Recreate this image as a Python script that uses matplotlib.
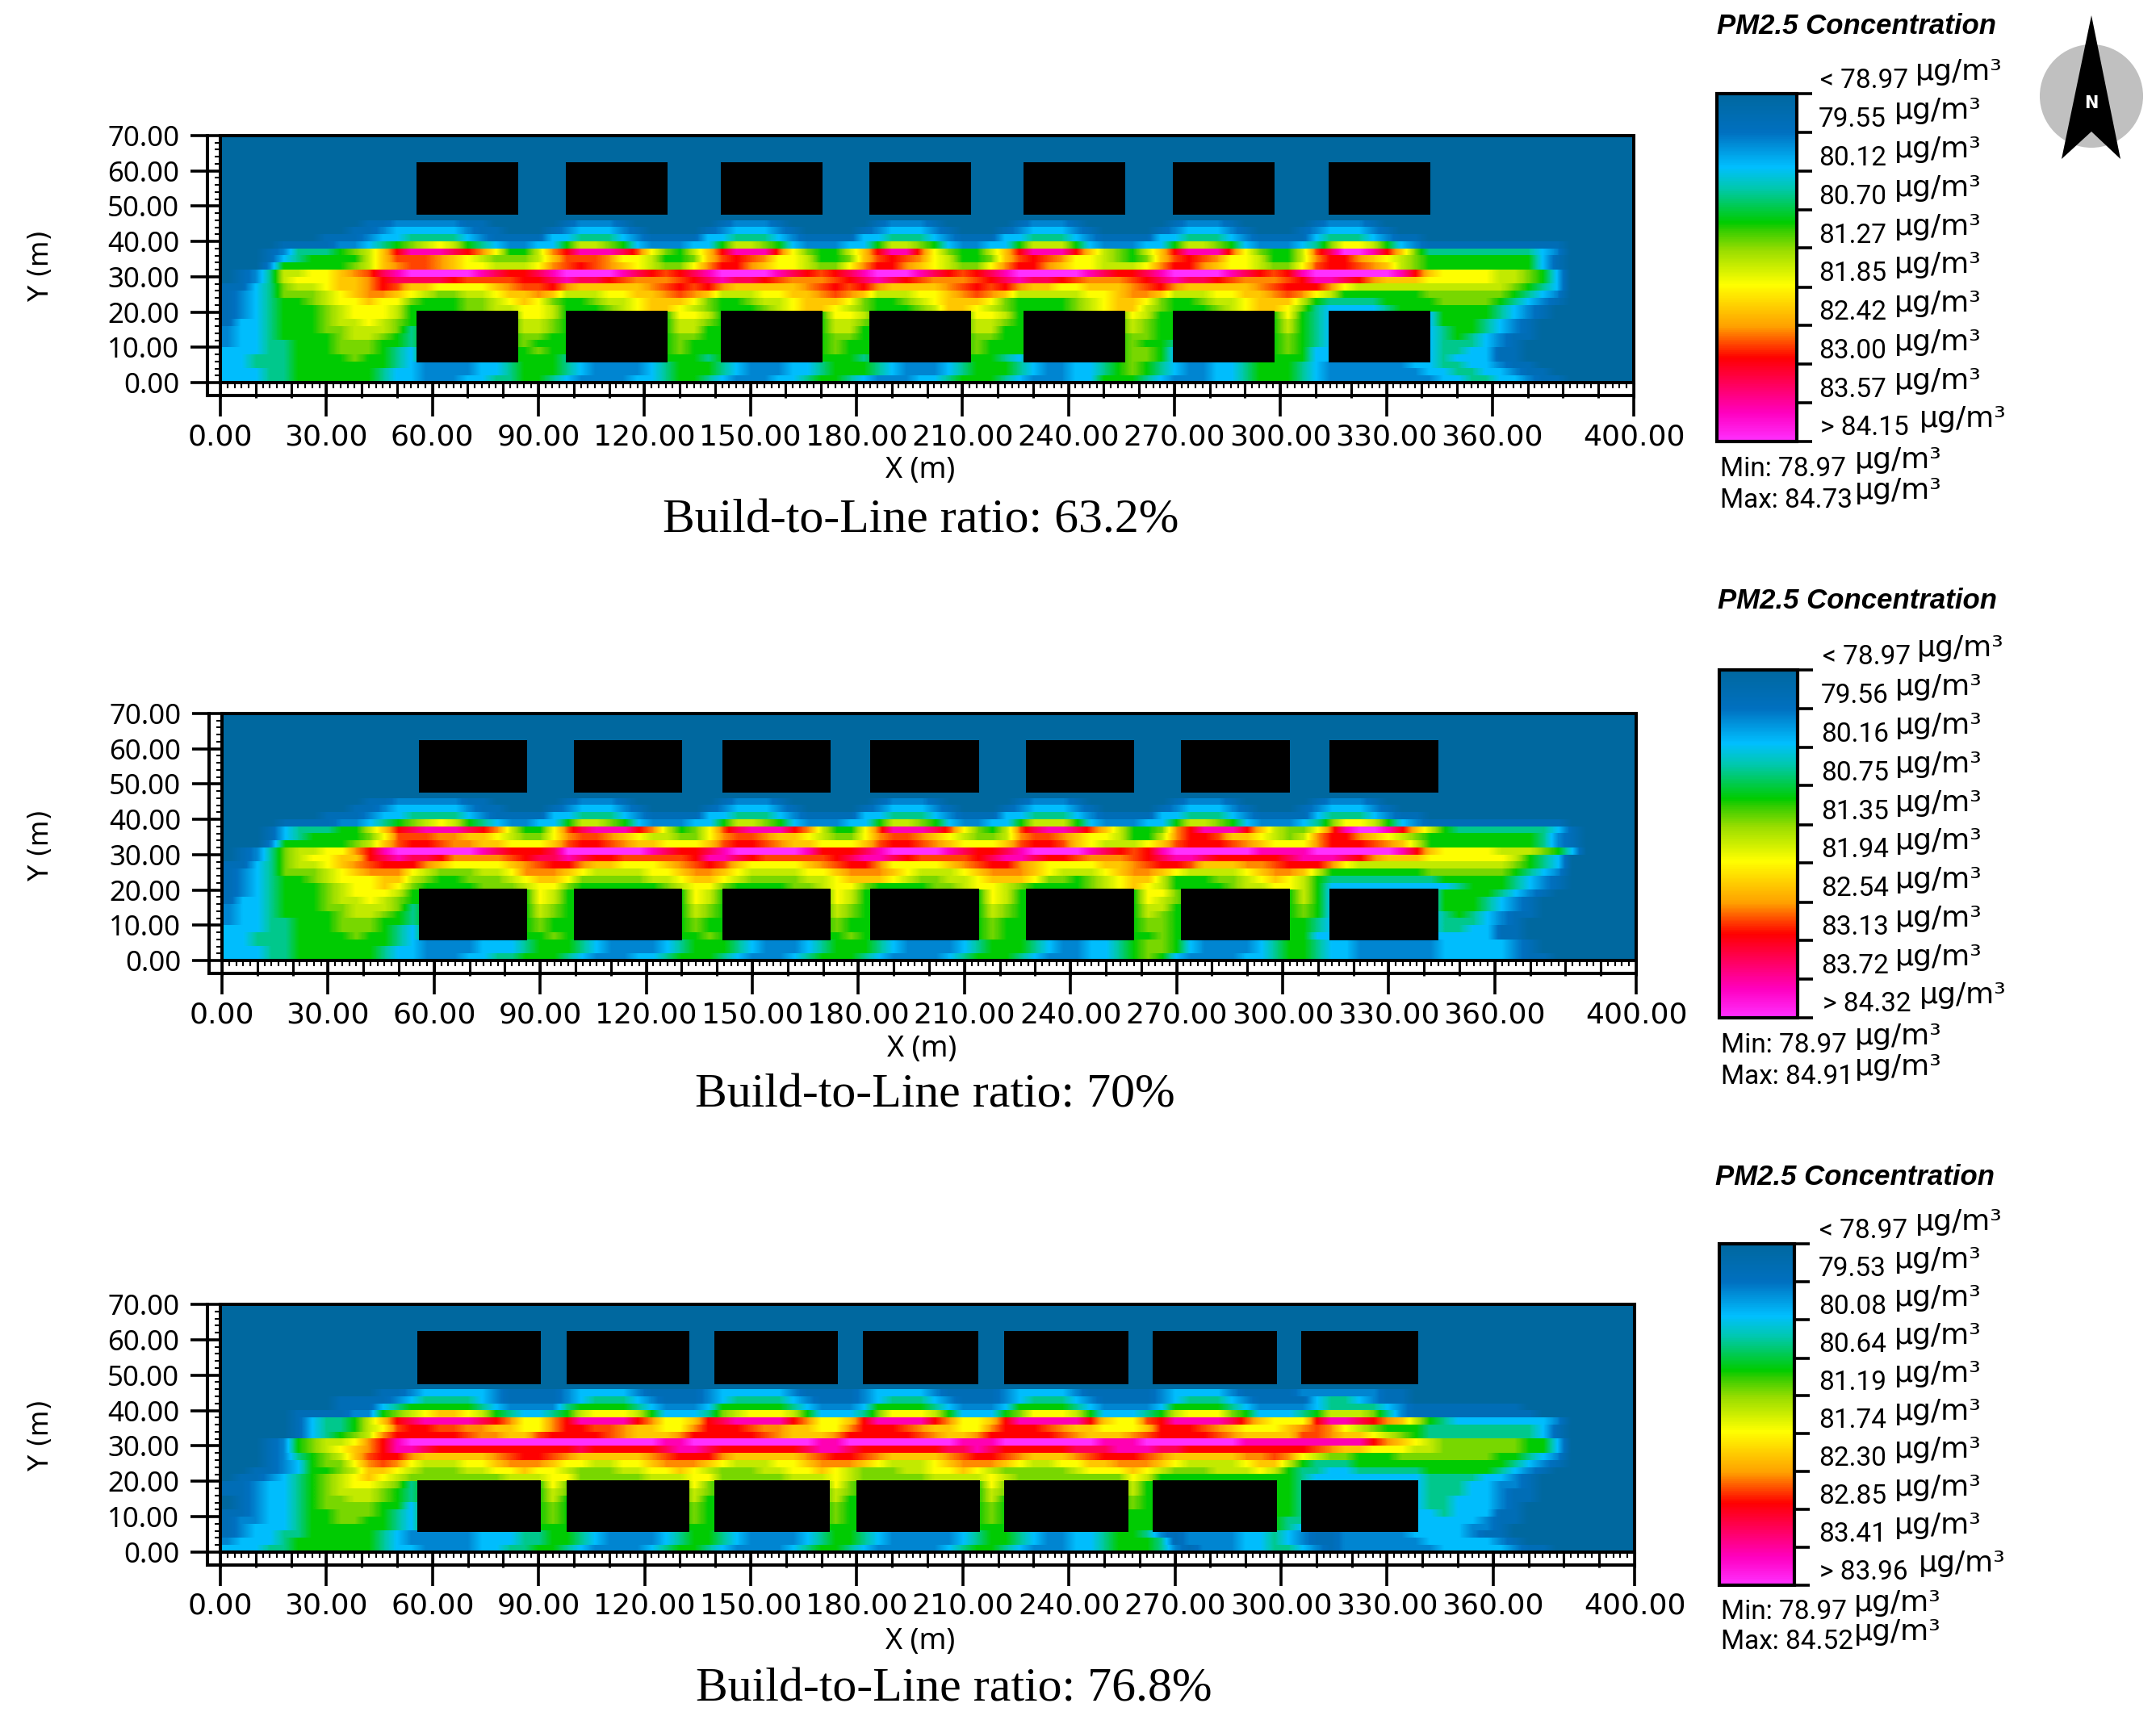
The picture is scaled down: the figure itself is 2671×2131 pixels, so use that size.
#!/usr/bin/env python
"""Recreate the three PM2.5 concentration maps for different build-to-line ratios."""
import numpy as np
import matplotlib
matplotlib.use('Agg')
import matplotlib.pyplot as plt
from matplotlib.cm import ScalarMappable
from matplotlib.colors import LinearSegmentedColormap, Normalize
from matplotlib.patches import Ellipse, Polygon

W, H = 2671, 2131

# colour ramp of the legend bar, top to bottom
RAMP_STOPS = [0.0, 0.11, 0.21, 0.27, 0.37, 0.39, 0.45, 0.55, 0.67, 0.76, 0.84, 0.92, 1.0]
RAMP_COLORS = ['#00689f', '#0070c0', '#00bfff', '#00c8b0', '#00cc00', '#30cc00', '#99dd00',
               '#ffff00', '#ffa000', '#ff0000', '#ff0060', '#ff00c0', '#ff30ff']

# position on the ramp for each character used in the grids below
LEVEL_CHARS = '0123456789abcdef'
LEVEL_FRACS = [0.0, 0.08, 0.14, 0.21, 0.29, 0.37, 0.43, 0.49,
               0.55, 0.62, 0.68, 0.72, 0.76, 0.83, 0.91, 1.0]

# 100 columns of 4 m, rows of 2 m from y=44-46 down to y=0-2
GRID_1 = [
    "0000000000 1122222110 0000122210 0000012221 0000001222 1000001222 1000000122 2100000122 2100000000 0000000000",
    "0000000001 1233333211 0001233321 0000123332 1000012333 2100012333 2100001233 3210001233 3210000000 0000000000",
    "0000000111 2334444321 1113344432 1111334443 2111133444 3211133444 3211113344 4321111344 4321100000 0000000000",
    "0000111122 3456787543 2233577653 2223357765 3222335776 5322335777 5322233577 6532223468 8753211111 1111100000",
    "0001244456 79ceeedca8 557aceeedb 86579ceeeb 865579ceeb 865579ceee c976579cee eb865 57bdf fec9644444 4443200000",
    "0001345555 79bbba9876 6679bbba88 75569bcba8 875569bcba 875569bcba 8876569bcb a887557acc a987655555 5553100000",
    "0002555556 79abba9887 778abcba98 7668acca98 87668acca9 87668acca9 887778acca 9887668bcc ba97655555 5553100000",
    "012477889a bdefffffed ccdeffffed cbcdeffffe dcbcdefffe dcbcdeffff fedccdefff fedcbcefff fffec98888 7765300000",
    "0124788899 acddddcbbb bccdeddcba aabcdeddcb aaabcdedcb aaabcdeddc baaabcdedd cbaaabceed ca99988888 7765300000",
    "1134677899 acb9988889 abbca99999 abcbca9999 9abcbca999 9abcbca998 8999abca99 999abccca8 7777777777 7654300000",
    "1234666789 aa98766778 99a9777889 9aba977788 99aba97778 89aba97777 7889aa9777 8899aba875 5555566666 6543200000",
    "1234556788 9886555667 8986556778 9998655677 8999865567 8999865555 6789986556 7789997544 4455556666 5432100000",
    "1234555678 8875555667 7887555678 9987655567 8998765556 7998765555 6789976555 6789986433 3345555555 4321000000",
    "1234555678 8875555555 5887555555 5588755555 5558875555 5558875555 5555875555 5555585433 3333335555 4321000000",
    "1334555677 8765555555 5776555555 5577655555 5557765555 5557765555 5555765555 5555575433 3333335554 3210000000",
    "2334555667 7764555555 5776555555 5577555555 5557755555 5557755555 5555765555 5555575433 3333334554 3210000000",
    "2334555567 7654555555 5665555555 5566555555 5556655555 5556655555 5555665555 5555565433 3333334543 2110000000",
    "2334455566 6554555555 5655555555 5565555555 5556555555 5556555555 5555655455 5555565433 3333334443 2100000000",
    "3334455566 6543555555 5565555555 5565555555 5556555555 5556555555 5555665355 5555565333 3333334433 1100000000",
    "3344455556 5543555555 5555455555 5555455555 5555545555 5555543555 5555665355 5555555333 3333334333 1100000000",
    "3344455555 5543222233 4555432222 3455543222 3345554322 2345554322 3345654322 3345554322 2222334433 2110000000",
    "3334455555 5433222233 4555432222 3455543222 3345554322 2345554322 3345654322 3345554322 2222233443 3211000000",
    "3334455555 5433222334 4554322223 3455432223 3455432223 3455543222 3355543222 3345554322 2222223344 3321100000",
]

GRID_2 = [
    "0000000000 1122222110 0000122210 0000012221 0000001222 1000001222 1000000122 2100000122 2100000000 0000000000",
    "0000000001 1233333211 0001233321 0000123332 1000012333 2100012333 2100001233 3210001233 3210000000 0000000000",
    "0000000111 2334444321 1113344432 1111334443 2111133444 3211133444 3211113344 4321111344 4321100000 0000000000",
    "0000111122 3456787543 2233577653 2223357765 3222335776 5322335777 5322233577 6532223468 8753211111 1111100000",
    "0001344455 79cdeeedca 7558bdeeec a75 68bdeee ca7558beee db8657bdee db97556ace eec97668be ffec975444 4444310000",
    "0001345555 68bbbaa998 7668abba98 77668abba9 987668abba 987667abba 9887557acc b998767acc a987655555 5554210000",
    "0002555556 79bccbaa99 8889bccba9 98889bccba 998889bccb a98889bccb 9877789bcc cba9888acc cba9755555 5554210000",
    "012467788a ceffffffed cccdffffff edccdeffff fecccdefff fedccdefff fedcbcefff fffeeeefff fffec98888 7776530000",
    "0124678899 cdeddcaaaa bcddedccbb bbbceedcbb bbbcdeedcb bbbcdeedcc baaabcdeed cccccdeeed ca99988888 8754300000",
    "113467789a bccca98888 9abcca9988 89abcb9888 89abcca888 89abcca988 8899abccb9 99aabccca8 7777777777 7654300000",
    "1234666789 aaa8766677 8aaa987777 889aa98777 7889aaa987 7789aaa987 7789aa9877 7789aa9755 5555566666 6543200000",
    "1234556788 8997655666 7899866666 7789987666 6778999876 6778999866 5678997555 6678987544 4444445555 5432100000",
    "1234555678 8986555566 6788655555 5678865555 6678865555 6678876555 5678987555 5677887533 3333333455 5432100000",
    "1234555678 8875555555 5587555555 5558755555 5558755555 5555875555 5555588655 5555557533 3333335555 4321000000",
    "1334555677 8765555555 5587555555 5558755555 5558755555 5555875555 5555587655 5555557533 3333335554 3210000000",
    "2334555667 7764555555 5576555555 5557655555 5557655555 5555765555 5555577555 5555556533 3333335554 3210000000",
    "2334555567 7654555555 5576555555 5557655555 5557655555 5555765555 5555576555 5555556533 3333334543 2110000000",
    "2334455566 6554555555 5565555555 5556555555 5556555555 5555655555 5555566555 5555555433 3333334443 2100000000",
    "3334455566 6543555555 5565555555 5556555555 5556555555 5555655555 5555566555 5555555433 3333334433 1100000000",
    "3344455556 5543555555 5556555555 5555655555 5555655555 5555655555 5555556555 5555555333 3333333333 1100000000",
    "3344455555 5543222233 3455543222 2345554322 2345554322 2234555432 2334566532 2223455433 2222223333 3210000000",
    "3334455555 5433222233 3455543222 2345554322 2345554322 2234555432 2334566532 2223455433 2222223333 3210000000",
    "3334455555 5433222334 4555432223 3455543222 3455543222 2345554322 2334565322 2233455433 2222223333 3211000000",
]

GRID_3 = [
    "0000000000 0112333332 1111233332 1111233333 2111123333 2111123333 2111112333 3211112222 2211000000 0000000000",
    "0000000011 1123444432 1111234443 2111234444 3211123444 3211123444 3211112344 4321111344 3211000000 0000000000",
    "0000000011 1345555543 2222455554 3222355555 4322235555 4322235555 4322223555 5432222344 4432111111 1100000000",
    "0000011112 2567899875 4334578887 5333467888 7533346888 7533356888 7533345788 8653334577 7642111111 1110000000",
    "0000013445 79cdeeeedc a88aceeeec a889cdeeee ca889ceeee ca889ceeee ec988bceee edb9888cee dca9754333 3333200000",
    "0000013445 78bccbbaa9 988accbba9 988acccbaa 9988acccba 9988acccba 998889cccb a98889aba8 7655544444 4443100000",
    "0000013456 7acccccbaa 99bccccba9 99acccccba 999acccccb a99acccccb a999abcccc ba9999bba9 9876544444 4443100000",
    "0001256778 acefffffff ffffffffff feefffffff ffeeffffff ffeeefffff ffeeefffff ffeeeeeeee eca9876666 6655300000",
    "0001256789 aceedccccc cccccdcccc cdeedccccc cdeedccccc cddedccccc dddeeeddcc cccccccba9 9888776666 6655300000",
    "0001245679 bcca99999a bccba99999 abccca9999 9abccba999 9abccba999 abcccba999 99aaba8766 5556666666 5543200000",
    "0001235668 aba8777889 aaa9887788 9aaa987778 89aaa98777 89aaa98778 899aaa9877 7789975444 5555555555 5432100000",
    "0011235567 9987666778 8988766677 8898766677 8898766677 8898766666 7888987666 7778754433 4444455555 4321000000",
    "0112345678 9876666666 7778866666 7778866666 7778766666 7777876666 6666875555 5555554333 3333344443 3210000000",
    "1123345678 8764555555 5558655555 5558655555 5558655555 5555865555 5555755555 5555554333 3333344433 2210000000",
    "1123345677 7654555555 5557655555 5557655555 5557655555 5555765555 5555755555 5555554333 3333344433 2110000000",
    "0123345667 7654555555 5557555555 5557555555 5557555555 5555755555 5555655555 5555554333 3333344333 2110000000",
    "0123345666 6553555555 5556555555 5556555555 5556555555 5555655555 5555655555 5555554333 3333344333 2100000000",
    "1123345566 6543555555 5556555555 5556555555 5556555555 5555655555 5555555555 5555554333 3333334333 1100000000",
    "1223345566 5543555555 5556555555 5556555555 5556555555 5555655555 5555555555 5555544333 3333333332 1100000000",
    "1233345555 5543555555 5555555555 5555555555 5555555555 5555555555 5555555555 5555543333 3333333322 1000000000",
    "1233445555 5432222233 3445543222 2345543222 2345543222 2234554322 3345542122 2233432112 2222333321 1000000000",
    "2333455555 5432222233 3445543222 2345543222 2345543222 2234554322 3345554122 2233432112 2222233333 2100000000",
    "3334455555 5433222233 4455432222 3455432222 3455432222 2345543222 3345554212 2233443212 2222223333 3211000000",
]

# buildings as (x start, x end) in metres
UPPER_1 = [(55.6, 84.4), (97.7, 126.5), (141.7, 170.5), (183.7, 212.5), (227.2, 256.0), (269.6, 298.4), (313.6, 342.4)]
UPPER_2 = [(55.6, 86.3), (99.5, 130.2), (141.5, 172.2), (183.4, 214.1), (227.4, 258.0), (271.3, 302.0), (313.3, 344.0)]
UPPER_3 = [(55.6, 90.7), (98.0, 132.7), (139.7, 174.7), (181.7, 214.4), (221.8, 256.8), (263.8, 298.8), (305.8, 338.9)]
LOWER_3 = [(55.6, 90.7), (98.0, 132.7), (139.7, 172.4), (179.8, 214.8), (221.8, 256.8), (263.8, 298.8), (305.8, 338.9)]
UPPER_Y = (47.5, 62.5)
LOWER_Y = (5.7, 20.4)

X_TICKS = [0, 30, 60, 90, 120, 150, 180, 210, 240, 270, 300, 330, 360, 400]
Y_TICKS = [0, 10, 20, 30, 40, 50, 60, 70]

LEGEND_1 = [78.97, 79.55, 80.12, 80.70, 81.27, 81.85, 82.42, 83.00, 83.57, 84.15]
LEGEND_2 = [78.97, 79.56, 80.16, 80.75, 81.35, 81.94, 82.54, 83.13, 83.72, 84.32]
LEGEND_3 = [78.97, 79.53, 80.08, 80.64, 81.19, 81.74, 82.30, 82.85, 83.41, 83.96]
MINS = [78.97, 78.97, 78.97]
MAXS = [84.73, 84.91, 84.52]
TITLES = ['Build-to-Line ratio: 63.2%', 'Build-to-Line ratio: 70%', 'Build-to-Line ratio: 76.8%']

# layout in reference pixels
PANELS = [
    dict(grid=GRID_1, upper=UPPER_1, lower=UPPER_1, legend=LEGEND_1, box=(273, 168, 2024, 474),
         xlabel=(1140, 583), ylabel=(51, 329), title=(1141, 645),
         bar=(2127, 116, 2226, 547), head=(2300, 33), first=(2255, 96, 2373), last=(2255, 526, 2378),
         num_x=2253, unit_x=2347, minmax=(2131, 577, 616, 2298)),
    dict(grid=GRID_2, upper=UPPER_2, lower=UPPER_2, legend=LEGEND_2, box=(275, 884, 2027, 1190),
         xlabel=(1142, 1300), ylabel=(51, 1047), title=(1158, 1358),
         bar=(2130, 830, 2227, 1261), head=(2301, 745), first=(2258, 810, 2375), last=(2258, 1240, 2378),
         num_x=2256, unit_x=2348, minmax=(2132, 1291, 1330, 2298)),
    dict(grid=GRID_3, upper=UPPER_3, lower=LOWER_3, legend=LEGEND_3, box=(273, 1616, 2025, 1923),
         xlabel=(1140, 2034), ylabel=(51, 1778), title=(1182, 2094),
         bar=(2130, 1541, 2223, 1964), head=(2298, 1458), first=(2254, 1521, 2373), last=(2254, 1944, 2377),
         num_x=2253, unit_x=2347, minmax=(2132, 1993, 2030, 2297)),
]

NUM_FONT = 'Roboto'
UNIT = 'µg/m³'

cmap = LinearSegmentedColormap.from_list('pm25', list(zip(RAMP_STOPS, RAMP_COLORS)))
frac_of = dict(zip(LEVEL_CHARS, LEVEL_FRACS))


def px_axes(fig, left, top, right, bottom):
    return fig.add_axes([left / W, 1 - bottom / H, (right - left) / W, (bottom - top) / H])


def grid_values(rows, vmin, vmax):
    """Turn the character rows into concentrations, with clean background above y=46."""
    fracs = [[0.0] * 100 for _ in range(35 - len(rows))]
    for row in rows:
        row = row.replace(' ', '').ljust(100, '0')[:100]
        fracs.append([frac_of[c] for c in row])
    return vmin + np.array(fracs) * (vmax - vmin)


def draw_map(fig, panel):
    left, top, right, bottom = panel['box']
    vmin, vmax = panel['legend'][0], panel['legend'][-1]
    ax = px_axes(fig, left, top, right, bottom)
    ax.set_facecolor(cmap(0.0))
    values = grid_values(panel['grid'], vmin, vmax)
    # one image per row, so the 2 m rows stay sharp while columns blend
    for i in range(values.shape[0]):
        ax.imshow(values[i:i + 1], cmap=cmap, vmin=vmin, vmax=vmax, aspect='auto',
                  extent=(0, 400, 70 - 2 * (i + 1), 70 - 2 * i), interpolation='bilinear')
    for x0, x1 in panel['upper']:
        ax.fill_between([x0, x1], UPPER_Y[0], UPPER_Y[1], color='black', lw=0)
    for x0, x1 in panel['lower']:
        ax.fill_between([x0, x1], LOWER_Y[0], LOWER_Y[1], color='black', lw=0)

    ax.set_xlim(0, 400)
    ax.set_ylim(0, 70)
    ax.set_xticks(X_TICKS, [f'{t:.2f}' for t in X_TICKS], fontsize=26, family='DejaVu Sans')
    ax.set_yticks(Y_TICKS, [f'{t:.2f}' for t in Y_TICKS], fontsize=25, family='Noto Sans')
    ax.set_xticks(np.arange(0, 401, 2), minor=True)
    ax.set_yticks(np.arange(0, 71, 2), minor=True)
    ax.tick_params(axis='x', which='major', length=30, width=2.6, pad=6)
    ax.tick_params(axis='y', which='major', length=26.5, width=2.6, pad=10)
    ax.tick_params(which='minor', length=5, width=1.5)
    for spine in ax.spines.values():
        spine.set_linewidth(2.9)

    # ruler strip: outer lines plus the 10 m ticks that reach through them
    dx = 16 / (right - left)
    dy = 16 / (bottom - top)
    ax.plot([-dx, -dx], [-dy, 1], transform=ax.transAxes, clip_on=False, color='black', lw=2.9)
    ax.plot([-dx, 1], [-dy, -dy], transform=ax.transAxes, clip_on=False, color='black', lw=2.9)
    ax.vlines(np.arange(0, 401, 10), -19 / (bottom - top), 0, transform=ax.get_xaxis_transform(),
              clip_on=False, colors='black', lw=2.2)
    return ax


def draw_legend(fig, over, panel):
    left, top, right, bottom = panel['bar']
    values = panel['legend']
    cax = px_axes(fig, left, top, right, bottom)
    cb = fig.colorbar(ScalarMappable(Normalize(values[0], values[-1]), cmap), cax=cax)
    cax.invert_yaxis()
    cb.set_ticks(values, labels=[''] * len(values))
    cb.minorticks_off()
    cax.tick_params(length=14, width=2.6)
    cb.outline.set_linewidth(3)

    over.text(panel['head'][0], panel['head'][1], 'PM2.5 Concentration', family='Liberation Sans',
              weight='bold', style='italic', fontsize=25, ha='center', va='center')

    ticks_y = np.linspace(top, bottom, len(values))
    for i, val in enumerate(values):
        y = ticks_y[i] - 20
        num_x, unit_x, label = panel['num_x'], panel['unit_x'], f'{val:.2f}'
        if i == 0:
            num_x, y, unit_x = panel['first']
            label = '< ' + label
        elif i == len(values) - 1:
            num_x, y, unit_x = panel['last']
            label = '> ' + label
        over.text(num_x, y + 4, label, family=NUM_FONT, fontsize=24, ha='left', va='center')
        over.text(unit_x, y - 7, UNIT, family='DejaVu Sans', fontsize=26, ha='left', va='center')

    k = PANELS.index(panel)
    mx, min_y, max_y, ux = panel['minmax']
    over.text(mx, min_y + 4, f'Min: {MINS[k]:.2f}', family=NUM_FONT, fontsize=24, ha='left', va='center')
    over.text(mx, max_y + 4, f'Max: {MAXS[k]:.2f}', family=NUM_FONT, fontsize=24, ha='left', va='center')
    over.text(ux, min_y - 7, UNIT, family='DejaVu Sans', fontsize=26, ha='left', va='center')
    over.text(ux, max_y - 8, UNIT, family='DejaVu Sans', fontsize=26, ha='left', va='center')


def main():
    fig = plt.figure(figsize=(W / 100, H / 100), dpi=100, facecolor='white')

    for panel in PANELS:
        draw_map(fig, panel)

    over = fig.add_axes([0, 0, 1, 1], zorder=10)
    over.set_xlim(0, W)
    over.set_ylim(H, 0)
    over.axis('off')

    for panel, title in zip(PANELS, TITLES):
        over.text(*panel['xlabel'], 'X (m)', family='Noto Sans', fontsize=26, ha='center', va='center')
        over.text(*panel['ylabel'], 'Y (m)', family='DejaVu Sans', fontsize=24, rotation=90,
                  ha='center', va='center')
        over.text(*panel['title'], title, family='Liberation Serif', fontsize=43, ha='center', va='center')
        draw_legend(fig, over, panel)

    # north arrow
    over.add_patch(Ellipse((2591, 119), 128, 128, color='#c0c0c0', lw=0))
    over.add_patch(Polygon([(2591, 19), (2554, 197), (2591, 163), (2627, 197)], closed=True, color='black', lw=0))
    over.text(2591, 128, 'N', color='white', weight='bold', family='DejaVu Sans', fontsize=15,
              ha='center', va='center')

    fig.savefig('out.png', dpi=100, facecolor='white')


if __name__ == '__main__':
    main()
